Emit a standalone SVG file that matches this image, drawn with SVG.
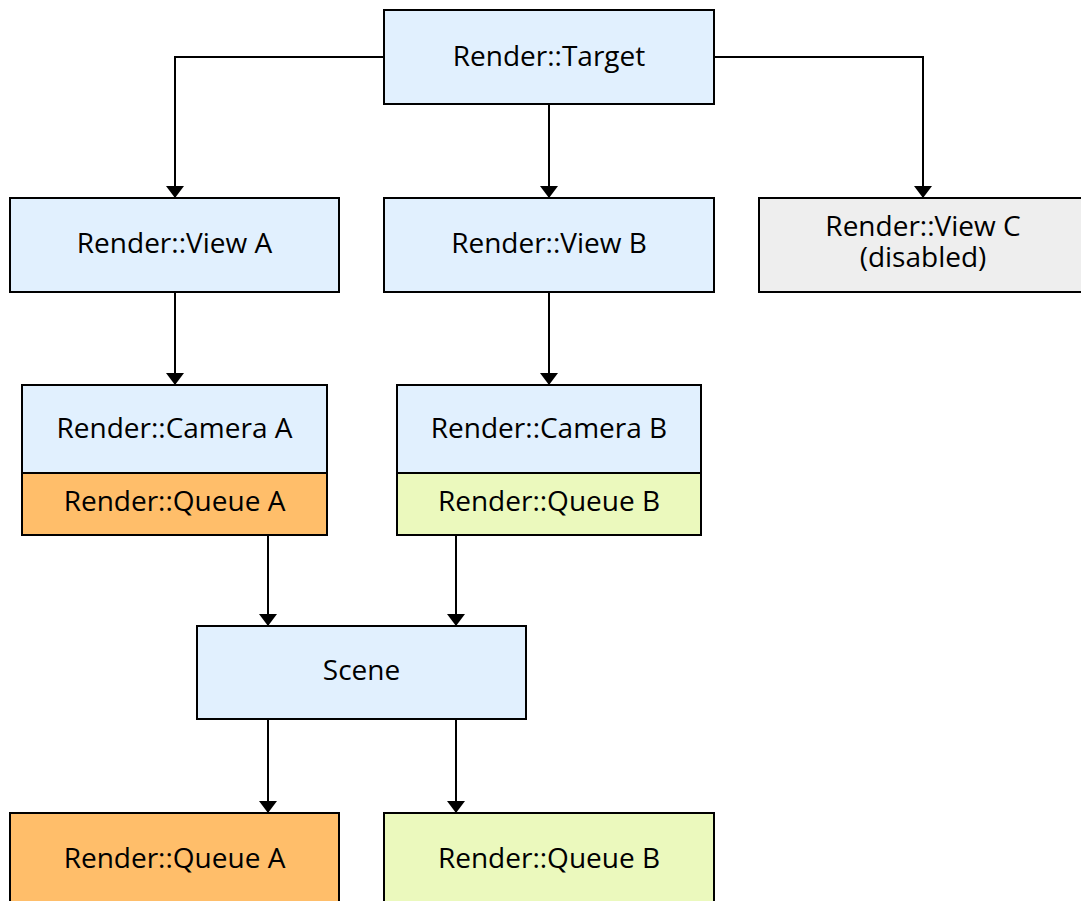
<svg xmlns="http://www.w3.org/2000/svg" width="1081" height="901" viewBox="0 0 1081 901">
  <style>
    .box { stroke: #000; stroke-width: 2; }
    .blue { fill: #e1f0fe; }
    .orange { fill: #ffbe6a; }
    .green { fill: #ebf9bd; }
    .grey { fill: #eeeeee; }
    text { font-family: "Open Sans", "Noto Sans", sans-serif; font-size: 28px; fill: #000; text-anchor: middle; }
    .edge { fill: none; stroke: #000; stroke-width: 2; }
  </style>
  <defs>
    <marker id="arrow" viewBox="0 0 12 18" refX="12" refY="9" markerWidth="12" markerHeight="18" markerUnits="userSpaceOnUse" orient="auto">
      <path d="M0,0 L12,9 L0,18 Z" fill="#000"/>
    </marker>
  </defs>
  <rect width="1081" height="901" fill="#fff"/>

  <g id="connectors">
    <path class="edge" marker-end="url(#arrow)" d="M384,57 H175 V198"/>
    <path class="edge" marker-end="url(#arrow)" d="M549,104 V198"/>
    <path class="edge" marker-end="url(#arrow)" d="M714,57 H923 V198"/>
    <path class="edge" marker-end="url(#arrow)" d="M175,292 V385"/>
    <path class="edge" marker-end="url(#arrow)" d="M549,292 V385"/>
    <path class="edge" marker-end="url(#arrow)" d="M268,535 V626"/>
    <path class="edge" marker-end="url(#arrow)" d="M456,535 V626"/>
    <path class="edge" marker-end="url(#arrow)" d="M268,719 V813"/>
    <path class="edge" marker-end="url(#arrow)" d="M456,719 V813"/>
  </g>

  <g id="target">
    <rect class="box blue" x="384" y="10" width="330" height="94"/>
    <text x="549" y="66">Render::Target</text>
  </g>
  <g id="view-a">
    <rect class="box blue" x="10" y="198" width="329" height="94"/>
    <text x="174.5" y="253">Render::View A</text>
  </g>
  <g id="view-b">
    <rect class="box blue" x="384" y="198" width="330" height="94"/>
    <text x="549" y="253">Render::View B</text>
  </g>
  <g id="view-c">
    <rect class="box grey" x="759" y="198" width="330" height="94"/>
    <text x="923" y="236">Render::View C<tspan x="923" dy="31">(disabled)</tspan></text>
  </g>
  <g id="camera-a">
    <rect class="box blue" x="22" y="385" width="305" height="88"/>
    <text x="174.5" y="438">Render::Camera A</text>
    <rect class="box orange" x="22" y="473" width="305" height="62"/>
    <text x="174.5" y="511">Render::Queue A</text>
  </g>
  <g id="camera-b">
    <rect class="box blue" x="397" y="385" width="304" height="88"/>
    <text x="549" y="438">Render::Camera B</text>
    <rect class="box green" x="397" y="473" width="304" height="62"/>
    <text x="549" y="511">Render::Queue B</text>
  </g>
  <g id="scene">
    <rect class="box blue" x="197" y="626" width="329" height="93"/>
    <text x="361.5" y="680">Scene</text>
  </g>
  <g id="queue-a">
    <rect class="box orange" x="10" y="813" width="329" height="100"/>
    <text x="174.5" y="868">Render::Queue A</text>
  </g>
  <g id="queue-b">
    <rect class="box green" x="384" y="813" width="330" height="100"/>
    <text x="549" y="868">Render::Queue B</text>
  </g>
</svg>
